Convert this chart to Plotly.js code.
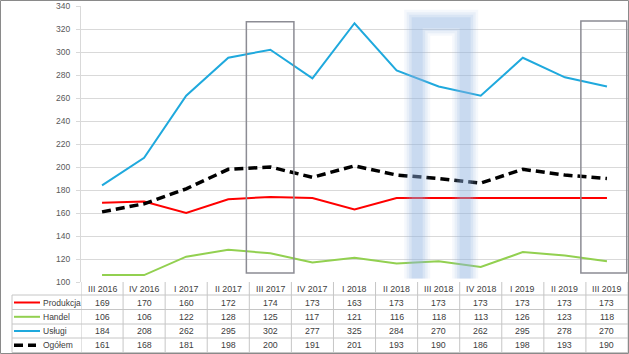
<!DOCTYPE html>
<html><head><meta charset="utf-8">
<script src="https://cdn.plot.ly/plotly-3.0.1.min.js"></script>
<style>html,body{margin:0;padding:0;background:#fff}#chart{width:629px;height:354px}</style>
</head><body><div id="chart"></div>
<script>
const categories = ["III 2016","IV 2016","I 2017","II 2017","III 2017","IV 2017","I 2018","II 2018","III 2018","IV 2018","I 2019","II 2019","III 2019"];
const produkcja = [169,170,160,172,174,173,163,173,173,173,173,173,173];
const handel    = [106,106,122,128,125,117,121,116,118,113,126,123,118];
const uslugi    = [184,208,262,295,302,277,325,284,270,262,295,278,270];
const ogolem    = [161,168,181,198,200,191,201,193,190,186,198,193,190];
const yTicks = [100,120,140,160,180,200,220,240,260,280,300,320,340];

const series = [
  {name:"Produkcja", values:produkcja, color:"#ff0000", width:2, dash:"solid"},
  {name:"Handel", values:handel, color:"#92d050", width:2, dash:"solid"},
  {name:"Usługi", values:uslugi, color:"#1fa9dd", width:2, dash:"solid"},
  {name:"Ogółem", values:ogolem, color:"#000000", width:3.5, dash:"9px,5px"}
];

const L=81, T=6, W=547, H=276;
const px = x => (x-L)/W;
const py = y => (T+H-y)/H;
const FONT = "Liberation Sans, Arial, sans-serif";
const idx = categories.map((c,i)=>i);

const traces = series.map(s => ({
  type:"scatter", mode:"lines", x:idx, y:s.values, name:s.name,
  line:{color:s.color, width:s.width, dash:s.dash}, hoverinfo:"skip"
}));

const shapes = [];
const annotations = [];
const gridC = "#d9d9d9", tabC = "#c6c6c6";

// table horizontal lines
[295, 309.5, 324, 338, 352.5].forEach(y => shapes.push({type:"line", xref:"paper", yref:"paper",
  x0:px(12), x1:px(628), y0:py(y), y1:py(y), line:{color:tabC, width:1}}));
// table vertical lines
for (let k=0;k<=categories.length;k++) shapes.push({type:"line", xref:"x", yref:"paper",
  x0:k-0.5, x1:k-0.5, y0:py(282), y1:py(352.5), line:{color:tabC, width:1}});
shapes.push({type:"line", xref:"paper", yref:"paper", x0:px(12), x1:px(12), y0:py(295), y1:py(352.5), line:{color:tabC, width:1}});

// category header labels
categories.forEach((c,i) => annotations.push({xref:"x", yref:"paper", x:i, y:py(288.5), text:c, showarrow:false,
  font:{family:FONT, size:8.8, color:"#404040"}, xanchor:"center", yanchor:"middle"}));

const rowY = [302.5, 316.8, 331, 345.3];
series.forEach((s,r) => {
  s.values.forEach((v,i) => annotations.push({xref:"x", yref:"paper", x:i, y:py(rowY[r]), text:String(v), showarrow:false,
    font:{family:FONT, size:8.8, color:"#404040"}, xanchor:"center", yanchor:"middle"}));
  annotations.push({xref:"paper", yref:"paper", x:px(40.5), y:py(rowY[r]), text:s.name, showarrow:false,
    font:{family:FONT, size:8.5, color:"#404040"}, xanchor:"left", yanchor:"middle"});
  shapes.push({type:"line", xref:"paper", yref:"paper", x0:px(14), x1:px(s.dash==="solid"?40:36), y0:py(rowY[r]), y1:py(rowY[r]),
    line:{color:s.color, width:s.width, dash:s.dash}});
});

// highlight boxes
shapes.push({type:"rect", xref:"x", yref:"y", x0:3.43, x1:4.56, y0:107.8, y1:326.2, layer:"above",
  line:{color:"#8c8c94", width:1.5}, fillcolor:"rgba(0,0,0,0)"});
shapes.push({type:"rect", xref:"x", yref:"y", x0:11.38, x1:12.47, y0:107.8, y1:327, layer:"above",
  line:{color:"#8c8c94", width:1.5}, fillcolor:"rgba(0,0,0,0)"});
const arch = "M 7.49 103 L 7.49 325.5 L 8.63 325.5 L 8.63 103";
[[26,0.08],[21,0.12],[16,0.16],[11,0.2]].forEach(([w,o]) => shapes.push({type:"path", xref:"x", yref:"y", path:arch, layer:"above",
  line:{color:"#8fb3e3", width:w}, opacity:o}));

// outer border
shapes.push({type:"rect", xref:"paper", yref:"paper", x0:px(0.5), x1:px(628.5), y0:py(353.5), y1:py(0.5),
  line:{color:"#8a8a8a", width:1}, fillcolor:"rgba(0,0,0,0)"});

const layout = {
  width:629, height:354, margin:{l:L, r:629-L-W, t:T, b:354-T-H},
  paper_bgcolor:"#fff", plot_bgcolor:"#fff", showlegend:false,
  xaxis:{type:"linear", range:[-0.5, categories.length-0.5], showticklabels:false, showgrid:false, zeroline:false,
    showline:false, fixedrange:true},
  yaxis:{range:[100,340], tickvals:yTicks, ticks:"outside", ticklen:4, tickcolor:gridC, showline:true, linecolor:gridC,
    gridcolor:gridC, zeroline:false, ticklabelstandoff:4, tickfont:{family:FONT, size:8.5, color:"#595959"}},
  shapes, annotations
};
Plotly.newPlot("chart", traces, layout, {staticPlot:true, displayModeBar:false});
</script></body></html>
